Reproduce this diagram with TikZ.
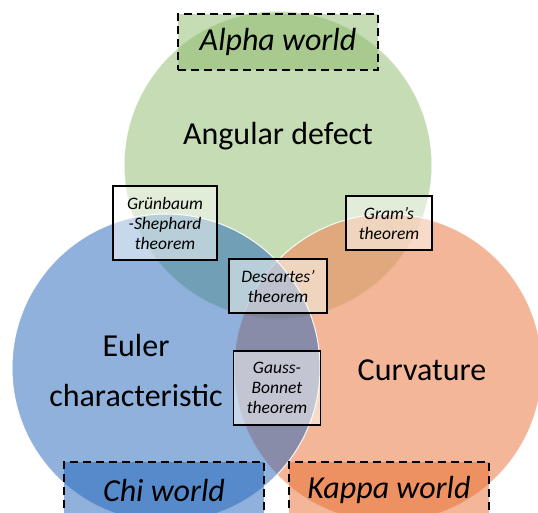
\documentclass[tikz,border=0pt]{standalone}
\usepackage{fontspec}
\setmainfont{Carlito}
\definecolor{alphag}{RGB}{139,185,105}
\definecolor{chib}{RGB}{31,99,185}
\definecolor{kappao}{RGB}{231,109,49}
\definecolor{kappalight}{RGB}{237,143,97}
\begin{document}
\begin{tikzpicture}[x=1pt,y=-1pt,
  world/.style={circle,minimum size=308pt,inner sep=0pt,fill opacity=0.5,draw=white,line width=1pt,draw opacity=0.9},
  worldtag/.style={draw=black,line width=1.1pt,dash pattern=on 8pt off 5pt,minimum width=200pt,minimum height=56pt,fill opacity=0.5,text opacity=1,font=\fontsize{32}{34}\selectfont\itshape},
  thm/.style={draw=black,line width=1.1pt,fill=white,fill opacity=0.5,text opacity=1,align=center,inner sep=0pt,font=\fontsize{17.5}{20}\selectfont\itshape},
  region/.style={align=center,font=\fontsize{32}{50}\selectfont}]
\useasboundingbox (0,0) rectangle (538,512);
% the three overlapping worlds
\node[world,fill=alphag] (alpha) at (278,165) {};
\node[world,fill=kappalight,fill opacity=0.65] (kappa) at (388,368) {};
\node[world,fill=chib] (chi) at (166,368) {};
% dashed world labels
\node[worldtag,fill=alphag] (alphatag) at (278,42) {Alpha world};
\node[worldtag,fill=chib] (chitag) at (164,490) {Chi world};
\node[worldtag,fill=kappao] (kappatag) at (389,490) {Kappa world};
% region names
\node[region] (angular) at (278,136) {Angular defect};
\node[region] (euler) at (136,370) {Euler\\characteristic};
\node[region] (curv) at (422,370) {Curvature};
% theorems on the overlaps
\node[thm,minimum width=104pt,minimum height=74pt] (gs) at (165,223) {Grünbaum\\-Shephard\\theorem};
\node[thm,minimum width=98pt,minimum height=54pt] (desc) at (278,286) {Descartes’\\theorem};
\node[thm,minimum width=86pt,minimum height=54pt] (gram) at (389,223) {Gram’s\\theorem};
\node[thm,minimum width=87pt,minimum height=74pt] (gb) at (277,388) {Gauss-\\Bonnet\\theorem};
\end{tikzpicture}
\end{document}
